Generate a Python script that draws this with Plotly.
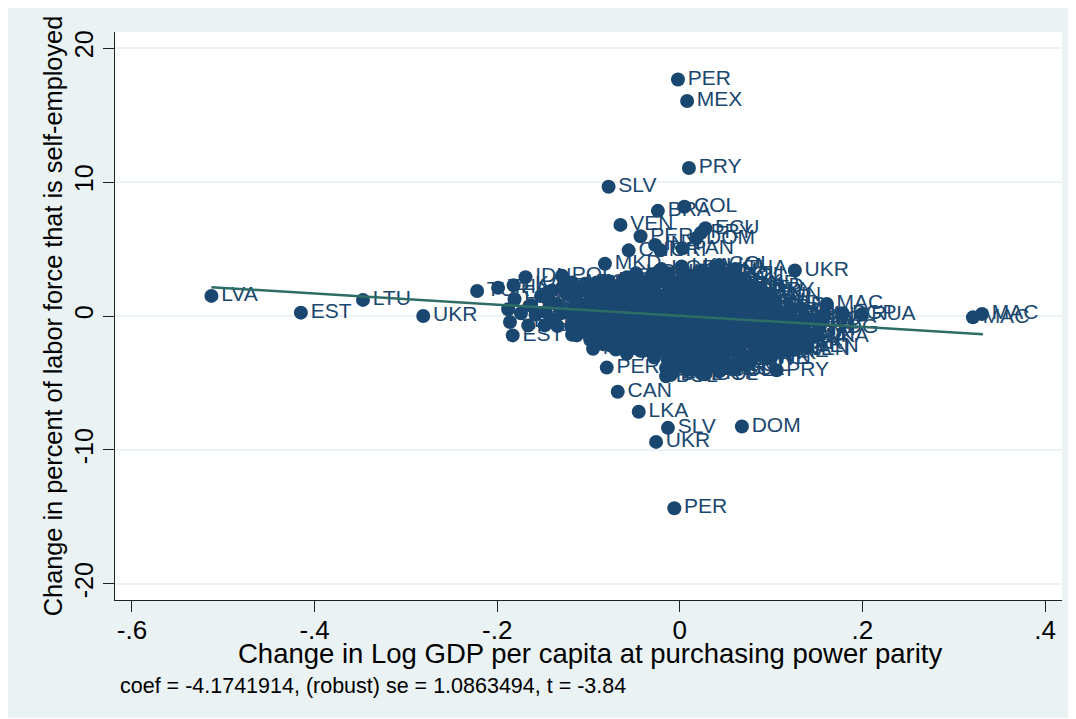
import plotly.graph_objects as go

outlier_labels = ["LVA","EST","LTU","UKR","PER","MEX","PRY","SLV","COL","BRA","VEN","ECU","PER","DOM","PRY",
    "MKD","UKR","MAC","MAC","MAC","PRY","PER","CAN","LKA","SLV","DOM","UKR","PER",
    "THA","TUR","LKA","IDN","POL","HUN","ARG","MKD","VEN","VEN","BGR","EST","LTU","MEX","WSM",
    "BOL","COL","RUA","BGP","NKA","WEN","VEN","LKA","CHN","INA","CRI","PAN","BOL"]
outlier_x = [-.513,-.415,-.347,-.281,-.002,.008,.010,-.078,.005,-.024,-.065,.028,-.043,.018,.023,
    -.082,.126,.161,.331,.321,.106,-.080,-.068,-.045,-.013,.068,-.026,-.006,
    -.199,-.222,-.182,-.169,-.129,-.181,-.188,-.174,-.186,-.166,-.134,-.183,-.113,-.095,-.076,
    -.015,.028,.199,.178,.149,.122,.138,.040,-.056,-.027,-.021,.003,-.010]
outlier_y = [1.5,.25,1.2,0.0,17.65,16.05,11.05,9.65,8.15,7.85,6.8,6.55,5.95,5.8,6.2,
    3.9,3.4,.9,.15,-.1,-4.05,-3.85,-5.65,-7.15,-8.35,-8.25,-9.4,-14.35,
    2.1,1.87,2.3,2.9,3.0,1.25,.5,.2,-.45,-.7,-.75,-1.45,-1.45,-2.45,-2.2,
    -4.5,-4.35,.1,.2,-1.55,-2.5,-2.3,3.7,4.9,5.3,4.9,5.05,-4.4]

cluster_labels = [
    "KOR","LKA","HUN","COL","THA",
    "CHL","ROU","IDN","PHL","CRI","URY","ITA","SVK","BOL",
    "POL","TUR","DEU","JPN","FRA","ESP","PRT","MYS","CZE","PAN","HND","NIC","BEL","AUT","NLD",
    "IRL","USA","AUS","NZL","DNK","NOR","FIN","ISL","LUX","ISR","CYP","MLT","ZAF","EGY","MAR","TUN",
    "IND","MNG","KGZ","ARM","GEO","AZE","MDA","BLR","RUS","SVN","HRV","SRB","ALB","BIH","MNE","JOR","SYR",
    "VNM","LAO","HKG","TWN","CHN","ARG","BRA","CHL","COL","ECU","PER","URY","VEN","MEX","PRY","BOL","DOM","SLV","GTM","NIC",
    "HND","CRI","PAN","JAM","TTO","BRB","BHS","MUS","BWA","NAM","GHA","KEN","UGA","TZA","ZMB","SEN","CIV","NGA","ETH","MDG",
    "POL","HUN","CZE","SVK","EST","LVA","LTU","ROU","BGR","UKR","TUR","GRC","ESP","PRT","ITA","FRA","DEU","AUT",
    "IRL","GBR","USA","CAN","AUS","NZL","JPN","KOR","THA","MYS","IDN","PHL","LKA","IND","PAK",
    "TUN","ZAF","ISR","CYP","MLT","LUX","ISL","NOR","SWE","FIN","DNK","CHE",
    "GEO","MDA","BLR","VEN","COL","PER",
    "ECU","DOM","PRY","COL","BOL",
    "LKA","HUN","THA","COL","ROU","KOR",
    "ARG","CHL","URY","PHL","BRA","ITA","IDN","ESP","PRT","GRC","CZE","SVK","HND","HUN","CRI",
    "DEU","TUR","JPN","MYS","BEL","NLD","AUT","CHE","SWE","NIC","DOM","ECU","BOL","PER","VEN","PRY",
    "USA","AUS","NZL","IRL","DNK","NOR","FIN","ISL","LUX","ISR","CYP","MLT","EGY","MAR","TUN","BGD",
    "MNG","KGZ","ARM","GEO","AZE","MDA","BLR","RUS","SVN","HRV","SRB","ALB","BIH","MNE","JOR","SYR","LBN","IRN",
    "LAO","HKG","TWN","CHN","ARG","BRA","CHL","COL","ECU","PER","URY","VEN","MEX","PRY","BOL","DOM","SLV","GTM","TTO",
    "NIC","CRI","PAN","JAM","BRB","BHS","MUS","BWA","NAM","GHA","KEN","UGA","TZA","ZMB","SEN","CIV","NGA","ETH",
    "POL","HUN","CZE","SVK","EST","LVA","LTU","ROU","BGR","UKR","TUR","GRC","ESP","PRT","ITA","FRA",
    "IRL","GBR","USA","CAN","AUS","NZL","JPN","KOR","THA","MYS","IDN","PHL","LKA",
    "ZAF","ISR","CYP","MLT","LUX","ISL","NOR","SWE","FIN",
    "ARM","GEO","MDA","BLR","VEN","COL",
]
cluster_x = [
    -.020,.002,.024,.043,.061,
    -.058,-.044,-.031,-.015,.001,.017,.029,.046,.058,
    -.128,-.113,-.099,-.086,-.070,-.056,-.041,-.027,-.012,.004,.018,.033,.048,.063,.079,
    -.152,-.122,-.093,-.079,-.066,-.049,-.036,-.021,-.006,.008,.024,.039,.052,.068,.083,.097,
    -.163,-.135,-.106,-.091,-.078,-.062,-.047,-.033,-.018,-.004,.012,.026,.041,.055,.071,.086,.102,
    -.158,-.130,-.101,-.088,-.072,-.058,-.043,-.029,-.014,.001,.016,.031,.045,.060,.075,.091,.106,.121,.137,.158,
    -.148,-.119,-.104,-.090,-.076,-.061,-.046,-.032,-.017,-.003,.013,.027,.042,.057,.072,.087,.103,.118,.134,.153,
    -.118,-.104,-.088,-.073,-.060,-.045,-.031,-.016,-.002,.014,.028,.044,.058,.073,.089,.104,.119,.139,
    -.084,-.069,-.055,-.040,-.026,-.011,.004,.019,.033,.048,.063,.078,.093,.108,.123,
    -.058,-.043,-.029,-.014,.002,.016,.031,.046,.061,.076,.090,.104,
    -.009,.006,.021,.036,.051,.066,
    -.008,.010,.024,.044,.058,
    -.030,-.012,.010,.033,.052,-.048,
    -.118,-.104,-.078,-.063,-.049,-.036,-.022,-.006,.009,.025,.040,.055,.070,-.091,-.140,
    -.144,-.116,-.101,-.086,-.072,-.058,-.043,-.029,-.013,.001,.016,.032,.046,.060,.076,.090,
    -.142,-.113,-.099,-.084,-.070,-.055,-.041,-.025,-.011,.005,.019,.034,.048,.063,.079,.094,
    -.147,-.118,-.104,-.089,-.075,-.060,-.046,-.031,-.016,-.001,.014,.029,.043,.058,.074,.089,.104,.120,
    -.138,-.111,-.096,-.082,-.067,-.052,-.038,-.024,-.009,.006,.020,.035,.050,.066,.081,.096,.111,.127,.143,
    -.116,-.100,-.086,-.071,-.057,-.042,-.028,-.013,.002,.017,.031,.046,.062,.077,.092,.108,.125,.136,
    -.098,-.082,-.066,-.052,-.037,-.022,-.007,.008,.024,.039,.053,.069,.085,.100,.115,.128,
    -.070,-.054,-.040,-.025,-.010,.006,.021,.036,.051,.066,.082,.097,.112,
    -.028,-.013,.003,.018,.033,.048,.064,.079,.096,
    -.015,.002,.017,.031,.047,.062,
]
cluster_y = [
    3.5,3.7,3.4,3.8,3.5,
    2.9,2.7,3.0,2.8,2.6,3.0,2.8,2.7,3.0,
    2.2,2.0,2.3,2.1,1.9,2.2,2.1,2.3,2.0,2.2,1.9,2.1,2.3,2.0,2.2,
    1.5,1.6,1.2,1.5,1.4,1.6,1.3,1.5,1.2,1.4,1.6,1.3,1.5,1.2,1.4,1.5,
    .8,.9,.5,.8,.6,.9,.7,.5,.8,.6,.9,.7,.5,.8,.7,.6,.8,
    .1,.2,-.2,.1,-.1,.2,0,-.2,.1,-.1,.2,0,-.2,.1,0,-.1,.2,.1,-.1,0,
    -.7,-.8,-.6,-.9,-.7,-.5,-.8,-.6,-.9,-.7,-.5,-.8,-.6,-.9,-.7,-.5,-.8,-.6,-.7,-.9,
    -1.4,-1.2,-1.5,-1.3,-1.6,-1.4,-1.2,-1.5,-1.3,-1.6,-1.4,-1.2,-1.5,-1.3,-1.6,-1.4,-1.3,-1.5,
    -2.1,-1.9,-2.2,-2.0,-2.3,-2.1,-1.9,-2.2,-2.0,-2.3,-2.1,-1.9,-2.2,-2.0,-2.1,
    -2.8,-2.6,-2.9,-2.7,-3.0,-2.8,-2.6,-2.9,-2.7,-3.0,-2.8,-2.7,
    -3.3,-3.6,-3.4,-3.7,-3.5,-3.3,
    -4.2,-4.0,-4.3,-4.1,-4.0,
    3.1,3.2,3.0,3.2,3.1,3.2,
    2.5,2.4,2.6,2.4,2.5,2.3,2.6,2.5,2.4,2.6,2.3,2.5,2.4,2.5,1.9,
    1.8,1.9,1.8,1.6,1.9,1.7,1.8,1.9,1.6,1.8,1.7,1.9,1.6,1.8,1.7,1.9,
    1.0,1.0,1.1,.9,1.2,1.0,1.1,.9,1.2,1.0,1.1,.9,1.2,1.0,1.1,.9,
    .3,.3,.4,.2,.5,.3,.4,.2,.5,.3,.4,.2,.5,.3,.4,.2,.3,.4,
    -.3,-.3,-.4,-.2,-.5,-.3,-.4,-.2,-.5,-.3,-.4,-.2,-.5,-.3,-.4,-.2,-.3,-.4,-.3,
    -.9,-1.2,-1.0,-1.1,-.9,-1.2,-1.0,-1.1,-.9,-1.2,-1.0,-1.1,-.9,-1.2,-1.0,-1.1,-1.2,-1.0,
    -1.8,-1.7,-1.9,-1.7,-1.8,-1.6,-1.9,-1.7,-1.8,-1.6,-1.9,-1.7,-1.8,-1.6,-1.8,-1.7,
    -2.5,-2.4,-2.6,-2.4,-2.5,-2.3,-2.6,-2.4,-2.5,-2.3,-2.6,-2.4,-2.5,
    -3.1,-3.3,-3.1,-3.2,-3.0,-3.3,-3.1,-3.2,-3.1,
    -3.9,-3.8,-4.0,-3.8,-3.9,-3.7,
]
assert len(cluster_x) == len(cluster_y) == len(cluster_labels), (len(cluster_x), len(cluster_y), len(cluster_labels))

fit_x = [-.513,.332]
fit_y = [2.15,-1.37]

x_ticks = [-.6,-.4,-.2,0,.2,.4]
x_tick_labels = ["-.6","-.4","-.2","0",".2",".4"]
y_ticks = [-20,-10,0,10,20]
y_tick_labels = ["-20","-10","0","10","20"]

x_title = "Change in Log GDP per capita at purchasing power parity"
y_title = "Change in percent of labor force that is self-employed"
note = "coef = -4.1741914, (robust) se = 1.0863494, t = -3.84"

W, H = 1068, 710
L, R, T, B = 107, 1054, 24, 592
BG = "#eaf2f3"
NAVY = "#1a476f"
FONT = "Liberation Sans, Arial, sans-serif"

fig = go.Figure()
fig.add_trace(go.Scatter(
    x=outlier_x + cluster_x, y=outlier_y + cluster_y,
    text=outlier_labels + cluster_labels,
    mode="markers+text", textposition="middle right",
    marker=dict(color=NAVY, size=14, line=dict(width=0)),
    textfont=dict(color=NAVY, size=21, family=FONT),
    cliponaxis=False, showlegend=False, hoverinfo="skip",
))
fig.add_trace(go.Scatter(
    x=fit_x, y=fit_y, mode="lines",
    line=dict(color="#2d6d66", width=2.5), showlegend=False, hoverinfo="skip",
))

fig.update_layout(
    width=W, height=H,
    margin=dict(l=L, r=W - R, t=T, b=H - B, autoexpand=False),
    paper_bgcolor=BG, plot_bgcolor="white",
    font=dict(family=FONT, color="black"),
    xaxis=dict(
        range=[-.6186, .4186], tickvals=x_ticks, ticktext=x_tick_labels,
        showgrid=False, zeroline=False, showline=True, linecolor="#222222", linewidth=1,
        ticks="outside", ticklen=11, tickcolor="#222222", tickfont=dict(size=26, color="black"),
        ticklabelstandoff=-4,
    ),
    yaxis=dict(
        range=[-21.2, 21.2], tickvals=y_ticks, ticktext=y_tick_labels, tickangle=-90,
        showgrid=True, gridcolor=BG, gridwidth=2, zeroline=False,
        showline=True, linecolor="#222222", linewidth=1,
        ticks="outside", ticklen=11, tickcolor="#222222", tickfont=dict(size=25, color="black"),
        title=dict(text=y_title, font=dict(size=25.3, color="black"), standoff=0),
    ),
    annotations=[
        dict(text=x_title, xref="paper", yref="paper", x=(582 - L) / (R - L), y=(B - 645) / (B - T),
             xanchor="center", yanchor="middle", showarrow=False, font=dict(size=27.5, color="black")),
        dict(text=note, xref="paper", yref="paper", x=(110 - L) / (R - L), y=(B - 678) / (B - T),
             xanchor="left", yanchor="middle", showarrow=False, font=dict(size=21.5, color="black")),
    ],
)
fig.write_html("out.html")
